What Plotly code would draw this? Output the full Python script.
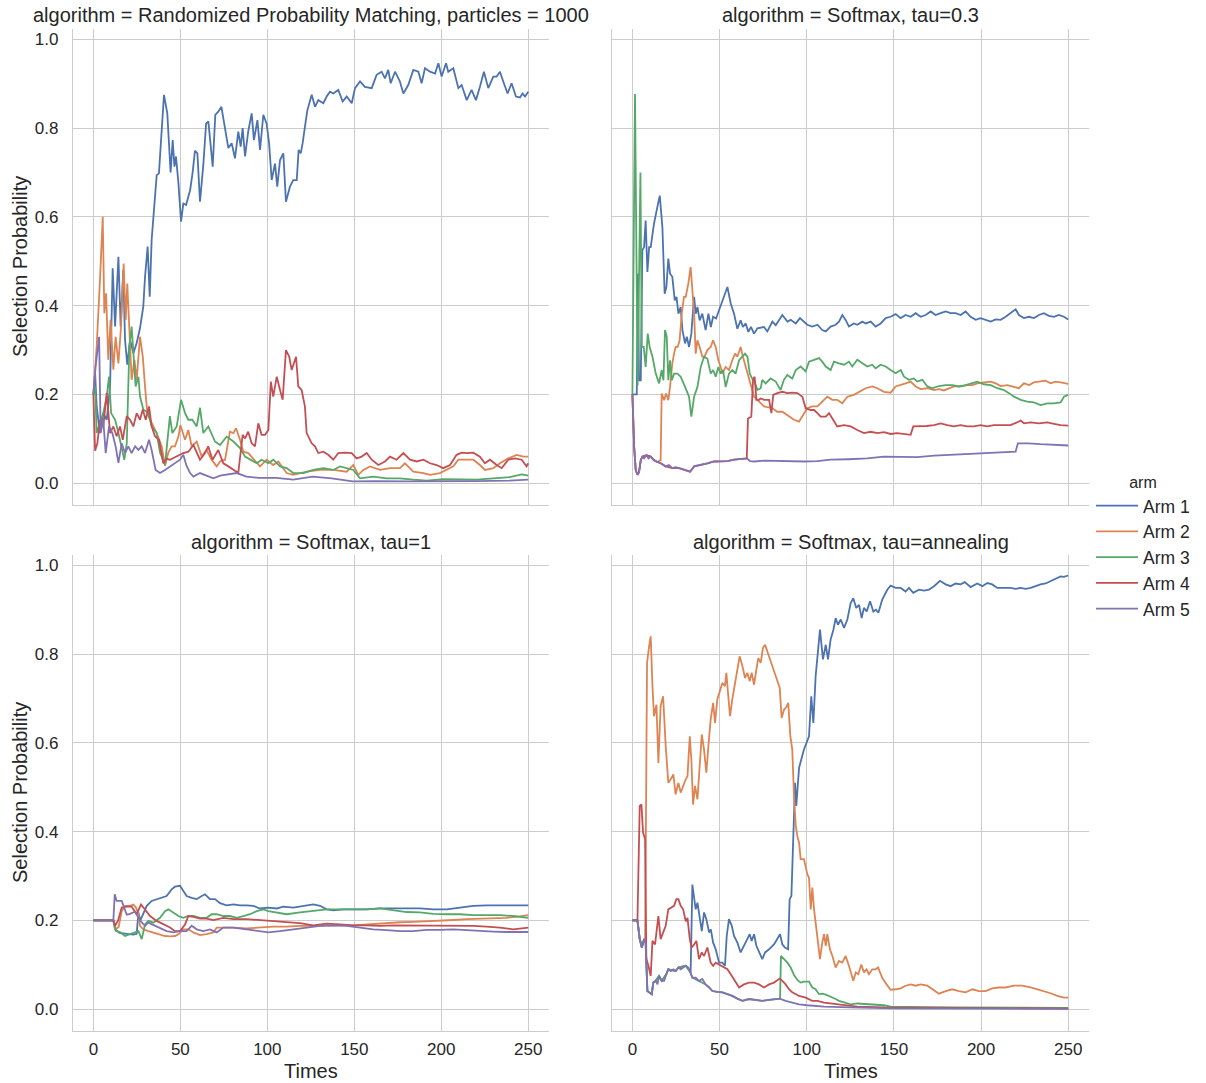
import plotly.graph_objects as go

# ---------------- data ----------------
ARMS = ["Arm 1", "Arm 2", "Arm 3", "Arm 4", "Arm 5"]
COLORS = ["#4C72B0", "#DD8452", "#55A868", "#C44E52", "#8172B3"]
PANEL_TITLES = [
    "algorithm = Randomized Probability Matching, particles = 1000",
    "algorithm = Softmax, tau=0.3",
    "algorithm = Softmax, tau=1",
    "algorithm = Softmax, tau=annealing",
]
X_TICKS = [0, 50, 100, 150, 200, 250]
Y_TICKS = [0.0, 0.2, 0.4, 0.6, 0.8, 1.0]

# (time, selection probability) pairs
RPM_ARM1 = [(0,0.2),(1,0.248),(1.9,0.173),(3.8,0.113),(5.7,0.158),(7.7,0.143),(9.6,0.218),(11.1,0.484),(12.5,0.353),(14.4,0.51),(15.7,0.353),(17.2,0.48),(18.2,0.323),(19.5,0.267),(21.1,0.323),(23,0.293),(24.9,0.316),(26.8,0.349),(28.7,0.398),(29.7,0.465),(31.2,0.533),(32.4,0.42),(33.5,0.548),(34.5,0.593),(36.4,0.694),(37.7,0.698),(40.6,0.875),(42.5,0.833),(44.4,0.70),(45.6,0.773),(46.6,0.713),(47.5,0.736),(48.9,0.676),(50.4,0.589),(51.7,0.63),(53.3,0.627),(55.6,0.66),(57,0.698),(58.4,0.749),(59.8,0.743),(61.3,0.634),(63.2,0.717),(64.8,0.81),(66.1,0.815),(68.6,0.713),(70.1,0.83),(71.8,0.837),(73.6,0.848),(75.5,0.803),(77.6,0.755),(79.5,0.766),(81.4,0.732),(83.3,0.792),(84.7,0.758),(85.8,0.80),(87.2,0.736),(89,0.792),(91,0.833),(92.3,0.773),(94.3,0.818),(95.8,0.751),(97.7,0.83),(99.6,0.81),(101,0.766),(102.5,0.683),(104.4,0.72),(105.7,0.668),(107.3,0.728),(109.2,0.743),(110.7,0.634),(113,0.668),(114.9,0.683),(116.9,0.683),(118,0.751),(119.2,0.743),(120.3,0.766),(121.6,0.803),(123,0.84),(125.5,0.875),(127.4,0.848),(129.3,0.863),(132.2,0.856),(134.1,0.871),(136,0.882),(137.9,0.878),(140.8,0.886),(143.3,0.86),(145.6,0.871),(148.5,0.856),(150.4,0.89),(153.3,0.905),(156.1,0.893),(160,0.89),(162.8,0.92),(165.7,0.927),(167.6,0.912),(169.5,0.931),(170.9,0.901),(173.4,0.927),(176.2,0.905),(178.2,0.878),(181,0.897),(183.9,0.931),(186.8,0.927),(188.7,0.901),(190.6,0.935),(193.5,0.927),(196.4,0.923),(198.3,0.946),(200.2,0.916),(202.7,0.946),(204,0.927),(206.9,0.935),(209.8,0.89),(211.7,0.897),(214.6,0.863),(217.4,0.886),(219.9,0.863),(222.2,0.893),(224.5,0.927),(227,0.89),(229.9,0.916),(231.8,0.916),(233.7,0.927),(235.6,0.905),(238.1,0.878),(240.4,0.901),(242.9,0.871),(245.2,0.869),(246.7,0.878),(248.1,0.871),(250,0.882)]
RPM_ARM2 = [(0,0.2),(1.9,0.308),(3.8,0.458),(5.4,0.6),(6.3,0.383),(7.3,0.428),(8.6,0.278),(9.9,0.368),(11.5,0.256),(12.8,0.33),(14.4,0.27),(15.9,0.353),(17.4,0.495),(18.6,0.368),(19.5,0.45),(20.7,0.33),(22,0.233),(23.6,0.278),(24.9,0.233),(26.8,0.33),(28.4,0.286),(29.7,0.218),(31,0.158),(32.6,0.143),(34.5,0.128),(36.4,0.113),(39.3,0.083),(41.2,0.039),(43.1,0.069),(45,0.083),(46.9,0.083),(48.9,0.105),(50,0.131),(52.7,0.098),(54.6,0.12),(56.5,0.083),(59.4,0.094),(62.3,0.06),(65,0.075),(68,0.053),(70.9,0.038),(72.8,0.049),(75.7,0.053),(78.5,0.116),(80.5,0.113),(82,0.124),(84.3,0.098),(86.2,0.071),(89.1,0.068),(92,0.056),(95.8,0.038),(99.6,0.053),(103.4,0.041),(106.3,0.049),(111.1,0.023),(114.9,0.019),(122.6,0.026),(130.3,0.03),(137.9,0.03),(145.6,0.026),(149.4,0.041),(152.3,0.019),(155.2,0.03),(159,0.038),(164.8,0.03),(170.5,0.034),(176.2,0.034),(179.1,0.045),(183.9,0.026),(189.7,0.023),(193.5,0.019),(199.2,0.023),(203.1,0.03),(206.9,0.038),(209.8,0.053),(213.6,0.053),(218.4,0.053),(222.2,0.041),(225.1,0.03),(229.9,0.034),(233.7,0.045),(238.5,0.056),(243.3,0.064),(247.1,0.06),(250,0.06)]
RPM_ARM3 = [(0,0.2),(1,0.218),(1.9,0.113),(3.8,0.136),(5.7,0.158),(7.7,0.196),(9,0.24),(10.2,0.158),(12.5,0.143),(14.4,0.113),(16.3,0.083),(17.8,0.053),(19.2,0.09),(20.7,0.308),(22,0.353),(23,0.3),(24.3,0.218),(25.9,0.24),(26.8,0.196),(28.7,0.166),(31.6,0.158),(33.5,0.128),(36.4,0.113),(38.3,0.069),(41.2,0.042),(44,0.151),(45.4,0.113),(47.9,0.128),(50.4,0.188),(52.7,0.158),(54.6,0.143),(56.9,0.143),(59.4,0.128),(61.3,0.17),(63.2,0.113),(66.1,0.128),(69.9,0.094),(72.8,0.086),(76.6,0.105),(80.5,0.094),(84.3,0.079),(87.2,0.06),(90,0.053),(93.9,0.045),(96.7,0.053),(100.6,0.045),(103.4,0.053),(107.3,0.038),(111.1,0.034),(114.9,0.023),(120.7,0.023),(126.4,0.03),(132.2,0.034),(137.9,0.03),(141.8,0.038),(145.6,0.034),(149.4,0.03),(153.3,0.011),(160.9,0.015),(168.6,0.011),(176.2,0.011),(183.9,0.008),(191.6,0.006),(201.1,0.009),(210.7,0.008),(220.3,0.008),(229.9,0.011),(239.5,0.014),(246.2,0.02),(250,0.017)]
RPM_ARM4 = [(0,0.2),(1,0.073),(2.3,0.09),(3.8,0.143),(5.7,0.128),(7.7,0.203),(9.6,0.113),(11.5,0.128),(13.4,0.106),(15.3,0.128),(16.9,0.098),(19.2,0.151),(21.1,0.143),(23,0.128),(24.9,0.158),(26.8,0.143),(28.4,0.166),(30.1,0.143),(32,0.173),(33.5,0.128),(35.4,0.106),(37.7,0.098),(40.2,0.045),(42.1,0.055),(44,0.053),(47.9,0.06),(51.7,0.068),(54.6,0.071),(57.5,0.086),(61.3,0.053),(64.2,0.068),(66,0.083),(68.5,0.053),(71.8,0.075),(74.7,0.045),(77.6,0.038),(80.5,0.03),(83.3,0.023),(85.8,0.109),(87.2,0.101),(89,0.116),(91,0.09),(92.9,0.083),(94.8,0.135),(96.7,0.109),(98.7,0.109),(100.6,0.12),(102,0.229),(103.4,0.195),(105.4,0.24),(107.3,0.21),(108.8,0.188),(110.7,0.30),(112.6,0.285),(114,0.255),(116.5,0.285),(117.8,0.218),(119.7,0.21),(121.6,0.173),(122.6,0.113),(125.5,0.09),(127.4,0.083),(129.3,0.068),(132.2,0.071),(135,0.064),(137.9,0.053),(140.8,0.068),(144.6,0.069),(148.5,0.068),(151.3,0.056),(154.2,0.06),(157.1,0.068),(160,0.053),(163.8,0.041),(167.6,0.049),(170.5,0.06),(174.3,0.053),(178.2,0.068),(182,0.053),(185.8,0.049),(189.7,0.053),(193.5,0.045),(197.3,0.041),(201.1,0.034),(205,0.041),(208.8,0.064),(211.7,0.069),(214.6,0.068),(218.4,0.069),(222.2,0.06),(225.1,0.045),(228,0.053),(231.8,0.041),(234.7,0.034),(238.5,0.053),(242.3,0.056),(246.2,0.053),(249,0.038),(250,0.045)]
RPM_ARM5 = [(0,0.2),(1.3,0.263),(3.3,0.33),(4.2,0.113),(5.7,0.143),(7.1,0.068),(9,0.128),(10.9,0.113),(12.8,0.083),(14.4,0.046),(16.3,0.09),(18.2,0.068),(20.1,0.083),(22,0.068),(24,0.083),(25.9,0.075),(27.8,0.083),(29.7,0.068),(32,0.098),(33.5,0.075),(35.8,0.03),(38.3,0.023),(41.2,0.03),(44,0.038),(46.9,0.046),(49.8,0.053),(51.7,0.064),(53.5,0.04),(55.6,0.023),(57.5,0.015),(61.3,0.023),(64.2,0.018),(69,0.011),(72.8,0.017),(76.6,0.019),(82.4,0.023),(88,0.015),(95,0.012),(105,0.012),(114.9,0.008),(126,0.015),(137,0.011),(149,0.004),(162,0.005),(181,0.004),(201,0.004),(220,0.005),(239,0.006),(250,0.008)]

SM03_ARM1 = [(0,0.2),(2.5,0.2),(3.2,0.472),(3.8,0.232),(4.8,0.232),(5.7,0.525),(6.7,0.532),(7.6,0.592),(8.6,0.476),(9.6,0.532),(10.5,0.532),(12.4,0.585),(14.3,0.622),(15.7,0.648),(17.2,0.577),(18.5,0.427),(19.5,0.442),(20.6,0.506),(21.6,0.472),(22.9,0.465),(24.3,0.412),(25.3,0.42),(26.4,0.382),(27.7,0.397),(28.7,0.345),(30.2,0.315),(31.2,0.33),(32.5,0.307),(33.8,0.337),(35.4,0.42),(36.3,0.382),(37.3,0.397),(38.6,0.367),(40.1,0.382),(42,0.345),(43.6,0.382),(45,0.352),(46.3,0.375),(48,0.371),(49.7,0.39),(51.6,0.412),(53.5,0.435),(54.5,0.442),(56.4,0.405),(58.3,0.382),(60.2,0.348),(62.1,0.367),(63.4,0.352),(65,0.36),(66.5,0.341),(68,0.352),(69.8,0.337),(71.7,0.349),(75.5,0.352),(77.4,0.342),(80.3,0.364),(82.2,0.356),(86,0.379),(88.9,0.364),(90.8,0.368),(93.7,0.36),(96.1,0.372),(98.4,0.364),(100.3,0.357),(103.2,0.353),(106.1,0.357),(108.9,0.345),(110.9,0.342),(113.7,0.353),(116.6,0.357),(118.5,0.364),(120.4,0.379),(122.3,0.368),(124.2,0.353),(127,0.36),(129,0.357),(131.9,0.364),(133.8,0.36),(136.7,0.364),(139.5,0.353),(142.4,0.36),(145.3,0.372),(148.1,0.375),(151,0.381),(153.9,0.372),(156.7,0.379),(159.6,0.375),(162.5,0.383),(165.3,0.375),(168.2,0.379),(171.1,0.387),(173.9,0.379),(176.8,0.383),(179.7,0.387),(182.5,0.383),(185.4,0.383),(188.3,0.379),(191.1,0.387),(194,0.375),(196.9,0.368),(199.7,0.372),(202.6,0.368),(205.5,0.364),(208.4,0.369),(211.2,0.368),(214.1,0.375),(216.9,0.383),(219.8,0.392),(221.7,0.379),(224.6,0.372),(227.5,0.375),(230.3,0.372),(233.2,0.379),(236,0.383),(238.9,0.377),(241.8,0.375),(244.6,0.379),(247.5,0.375),(250,0.369)]
SM03_ARM2 = [(0,0.2),(1,0.082),(1.9,0.03),(2.9,0.019),(3.8,0.025),(4.8,0.052),(5.7,0.06),(8,0.063),(10.5,0.06),(12.4,0.052),(14.3,0.048),(16.2,0.052),(16.8,0.202),(18.2,0.187),(19.3,0.202),(20.6,0.187),(21.6,0.217),(22.9,0.27),(23.9,0.292),(24.8,0.307),(26,0.307),(27.1,0.322),(28.3,0.382),(29.6,0.42),(30.6,0.42),(32.1,0.45),(33.4,0.487),(34.4,0.442),(35.4,0.382),(36.3,0.292),(37.3,0.322),(38.6,0.307),(40.1,0.285),(41.4,0.285),(43,0.3),(44.9,0.307),(46.3,0.322),(47.8,0.307),(49.3,0.277),(50.6,0.262),(51.6,0.247),(53.5,0.262),(55.4,0.255),(57.3,0.277),(58.9,0.292),(60.2,0.285),(62.1,0.307),(63.4,0.285),(65,0.262),(66.5,0.24),(68.4,0.21),(69.8,0.195),(71.7,0.188),(75.5,0.173),(80.3,0.169),(83.1,0.161),(86,0.161),(89.8,0.15),(92.7,0.143),(95.6,0.139),(98.4,0.158),(100.3,0.169),(103.2,0.173),(106.1,0.173),(108.9,0.184),(111.8,0.195),(114.7,0.188),(117.5,0.188),(120.4,0.18),(123.3,0.195),(127,0.199),(130,0.206),(133.8,0.214),(137.6,0.218),(140.5,0.214),(144.3,0.206),(148.1,0.204),(151,0.218),(153.9,0.221),(156.7,0.225),(159.6,0.229),(162.5,0.218),(165.3,0.212),(169.2,0.214),(173,0.21),(175.8,0.212),(178.7,0.209),(181.6,0.214),(184.4,0.218),(188.3,0.218),(192.1,0.221),(195,0.221),(197.8,0.225),(201.6,0.227),(205.5,0.229),(208.4,0.225),(211.2,0.219),(215,0.221),(217.9,0.218),(221.7,0.214),(224.6,0.225),(227.5,0.221),(230.3,0.227),(234.1,0.229),(236.9,0.231),(239.9,0.225),(242.7,0.229),(245.6,0.227),(250,0.224)]
SM03_ARM3 = [(0,0.2),(1.5,0.877),(3,0.22),(4.6,0.70),(5.4,0.307),(6.5,0.307),(7.6,0.262),(8.8,0.337),(9.9,0.307),(11.5,0.285),(13.4,0.247),(15.3,0.225),(16.8,0.255),(17.8,0.232),(18.7,0.345),(19.7,0.33),(20.6,0.232),(21.6,0.277),(22.6,0.232),(23.9,0.247),(25.8,0.247),(27.7,0.24),(30.2,0.217),(32.5,0.195),(33.8,0.15),(35.4,0.195),(37.3,0.217),(39.2,0.262),(41.1,0.285),(43,0.281),(44.9,0.247),(46.3,0.255),(47.8,0.24),(49.3,0.262),(50.6,0.247),(52,0.255),(53.5,0.217),(55.4,0.247),(57.3,0.255),(59.2,0.247),(61.2,0.277),(63.1,0.285),(64.6,0.292),(66,0.285),(67.3,0.247),(68.8,0.235),(69.8,0.233),(71.7,0.21),(73.6,0.214),(74.5,0.233),(76.4,0.225),(79.3,0.236),(82.2,0.229),(85,0.21),(86.9,0.233),(88.9,0.244),(91.7,0.236),(93.7,0.255),(96.5,0.263),(99.4,0.252),(101.3,0.274),(104.2,0.278),(107,0.282),(108.9,0.274),(110.9,0.263),(113.7,0.255),(115.6,0.274),(118.5,0.27),(121.4,0.267),(124.2,0.274),(126.1,0.263),(129,0.278),(131.9,0.27),(134.7,0.263),(137.6,0.267),(139.5,0.259),(142.4,0.267),(145.3,0.263),(148.1,0.255),(151,0.248),(153.9,0.255),(155.8,0.24),(158.6,0.233),(161.5,0.236),(163.4,0.229),(166.3,0.233),(169.2,0.218),(172,0.214),(175.8,0.219),(179.7,0.221),(183.5,0.221),(187.3,0.218),(191.1,0.221),(195,0.225),(197.8,0.229),(201.6,0.223),(205.5,0.221),(209.3,0.214),(213.1,0.21),(216,0.203),(218.9,0.195),(222.7,0.188),(226.5,0.184),(230.3,0.182),(234.1,0.176),(238,0.18),(241.8,0.18),(245.6,0.182),(247.5,0.195),(250,0.199)]
SM03_ARM4 = [(0,0.2),(1,0.082),(1.9,0.03),(2.9,0.019),(3.8,0.025),(4.8,0.052),(5.7,0.06),(8,0.063),(10.5,0.06),(12.4,0.052),(14.3,0.048),(16.2,0.045),(19.1,0.038),(22.9,0.034),(26.8,0.034),(29.6,0.03),(33.1,0.026),(35.4,0.038),(39.2,0.041),(43,0.045),(46.8,0.049),(50.6,0.05),(54.5,0.05),(58.3,0.053),(62.1,0.055),(65.6,0.056),(66.3,0.146),(68.2,0.15),(69.2,0.233),(70.1,0.24),(71.1,0.188),(72.6,0.188),(73.6,0.191),(75.5,0.188),(78.4,0.188),(79.7,0.158),(80.8,0.199),(83.1,0.203),(86,0.206),(88.9,0.203),(91.7,0.204),(94.6,0.203),(97.5,0.195),(99.4,0.169),(102.3,0.165),(104.2,0.165),(106.1,0.158),(108,0.15),(110.9,0.15),(112.8,0.158),(114.7,0.146),(117.5,0.128),(121.4,0.131),(125.2,0.128),(129,0.12),(132.8,0.113),(136.7,0.116),(140.5,0.113),(144.3,0.115),(148.1,0.111),(151.9,0.113),(155.8,0.111),(159.6,0.109),(161.1,0.128),(165,0.128),(168.8,0.129),(173,0.131),(176.8,0.135),(180.6,0.131),(184.4,0.128),(188.3,0.131),(192.1,0.128),(195.9,0.128),(199.7,0.131),(203.6,0.128),(207.4,0.131),(211.2,0.131),(216.9,0.131),(221.7,0.139),(222.7,0.141),(224.6,0.135),(228.4,0.137),(233.2,0.135),(238,0.137),(241.8,0.134),(245.6,0.131),(250,0.13)]
SM03_ARM5 = [(0,0.2),(1,0.082),(1.9,0.03),(2.9,0.019),(3.8,0.025),(4.8,0.052),(5.7,0.06),(6.7,0.056),(8,0.063),(9.2,0.056),(10.5,0.06),(12.4,0.052),(14.3,0.048),(16.2,0.045),(19.1,0.038),(20.9,0.041),(22.9,0.034),(24.8,0.036),(26.8,0.034),(29.6,0.03),(33.1,0.026),(35.4,0.038),(39.2,0.041),(43,0.045),(46.8,0.049),(50.6,0.05),(54.5,0.05),(58.3,0.053),(62.1,0.055),(65.6,0.056),(67.5,0.05),(69.8,0.049),(76,0.051),(83.1,0.05),(90.7,0.049),(98.4,0.049),(106,0.05),(113.7,0.053),(124,0.054),(134.7,0.056),(144.3,0.06),(154,0.06),(163.4,0.059),(173,0.062),(182.5,0.064),(192.1,0.066),(201.6,0.067),(211.2,0.069),(219.8,0.071),(221.1,0.09),(227,0.09),(234.1,0.088),(243.7,0.087),(250,0.085)]

SM1_ARM1 = [(0,0.2),(11.5,0.2),(12.5,0.18),(15,0.172),(19.2,0.17),(23,0.168),(24.9,0.17),(25.9,0.218),(27,0.2),(28.5,0.215),(30.7,0.233),(33.5,0.244),(36.4,0.248),(39.3,0.251),(42.1,0.255),(45,0.27),(46.9,0.276),(49.8,0.278),(51.7,0.266),(53.6,0.255),(56.5,0.251),(59.4,0.248),(62.3,0.255),(64.2,0.259),(67,0.248),(69.9,0.248),(72.8,0.239),(76.6,0.234),(80.5,0.236),(84.3,0.234),(88.1,0.234),(91.9,0.233),(95.8,0.227),(100.6,0.229),(105.4,0.227),(109.2,0.231),(114.9,0.229),(120.7,0.233),(126.4,0.236),(130.3,0.233),(134.1,0.225),(137.9,0.223),(143.7,0.225),(149.4,0.225),(157.1,0.225),(164.8,0.227),(172.4,0.227),(180.1,0.227),(187.7,0.227),(195.4,0.225),(203.1,0.225),(210.7,0.229),(218.4,0.233),(226,0.234),(233.7,0.234),(241.4,0.234),(250,0.234)]
SM1_ARM2 = [(0,0.2),(11.5,0.2),(12.5,0.18),(14.5,0.185),(16.3,0.221),(18.2,0.233),(21.1,0.233),(23,0.236),(24.5,0.229),(25.9,0.214),(26.8,0.188),(28.7,0.18),(31.6,0.176),(34.5,0.173),(38.3,0.169),(41.2,0.165),(44.1,0.164),(46.9,0.165),(48.9,0.169),(51.7,0.18),(54.6,0.18),(57.5,0.173),(61.3,0.167),(65.1,0.169),(69,0.173),(70.9,0.184),(74.7,0.184),(80.5,0.184),(88.1,0.182),(95.8,0.184),(103.4,0.186),(111.1,0.186),(118.8,0.188),(126.4,0.188),(134.1,0.189),(141.8,0.189),(149.4,0.189),(157.1,0.191),(164.8,0.193),(168.6,0.195),(176.2,0.196),(183.9,0.197),(191.6,0.198),(199.2,0.199),(206.9,0.201),(214.6,0.203),(222.2,0.204),(229.9,0.206),(237.5,0.206),(245.2,0.209),(250,0.212)]
SM1_ARM3 = [(0,0.2),(11.5,0.2),(12.2,0.19),(13,0.176),(15.3,0.174),(18.2,0.165),(21.1,0.169),(23.9,0.173),(25.9,0.176),(27.8,0.158),(29.7,0.191),(31.6,0.199),(34.5,0.195),(38.3,0.206),(41.2,0.221),(43.1,0.225),(46,0.218),(48.9,0.21),(51.7,0.206),(54.6,0.21),(57.5,0.21),(61.3,0.206),(65.1,0.206),(68,0.214),(70.9,0.214),(74.7,0.21),(78.5,0.21),(82.4,0.206),(86.2,0.21),(90,0.214),(93.9,0.221),(97.7,0.225),(100.6,0.221),(105.4,0.218),(111.1,0.214),(118.8,0.218),(126.4,0.221),(134.1,0.225),(141.8,0.225),(149.4,0.225),(157.1,0.225),(164.8,0.227),(172.4,0.223),(180.1,0.219),(187.7,0.218),(195.4,0.215),(203.1,0.214),(210.7,0.214),(218.4,0.212),(226,0.212),(233.7,0.212),(241.4,0.21),(250,0.206)]
SM1_ARM4 = [(0,0.2),(11.5,0.2),(12.5,0.188),(14.2,0.2),(16.3,0.229),(19.2,0.231),(22,0.231),(24.9,0.214),(27.4,0.236),(29.7,0.225),(32.6,0.21),(36.4,0.199),(40.2,0.191),(44.1,0.184),(46.9,0.176),(49.8,0.176),(52.7,0.191),(54.6,0.21),(57.5,0.208),(61.3,0.204),(65.1,0.204),(69,0.201),(74.7,0.206),(80.5,0.203),(88.1,0.203),(95.8,0.201),(103.4,0.199),(111.1,0.196),(118.8,0.194),(126.4,0.189),(134.1,0.193),(141.8,0.191),(149.4,0.189),(157.1,0.189),(164.8,0.188),(172.4,0.189),(180.1,0.189),(187.7,0.189),(195.4,0.189),(203.1,0.189),(210.7,0.188),(218.4,0.188),(226,0.186),(233.7,0.184),(241.4,0.18),(250,0.184)]
SM1_ARM5 = [(0,0.2),(11.5,0.2),(12.3,0.259),(13.4,0.244),(16.3,0.244),(19.2,0.213),(21.1,0.215),(23.9,0.22),(26.8,0.2),(29.7,0.188),(31.6,0.195),(34.5,0.19),(38.3,0.184),(42.1,0.176),(46,0.173),(49.8,0.176),(53.6,0.176),(56.5,0.188),(59.4,0.18),(63.2,0.176),(67,0.18),(70.9,0.173),(74.7,0.184),(80.5,0.184),(88.1,0.18),(95.8,0.176),(100.6,0.173),(107.3,0.176),(114.9,0.18),(122.6,0.184),(130.3,0.188),(137.9,0.189),(145.6,0.188),(153.3,0.184),(160.9,0.18),(168.6,0.178),(176.2,0.176),(183.9,0.176),(191.6,0.179),(199.2,0.179),(206.9,0.18),(214.6,0.178),(222.2,0.176),(229.9,0.175),(237.5,0.174),(245.2,0.173),(250,0.174)]

SMA_ARM1 = [(0,0.2),(2.9,0.2),(4.2,0.158),(5.4,0.139),(6.7,0.158),(7.6,0.15),(8.6,0.041),(9.9,0.038),(11.1,0.034),(12,0.06),(13.4,0.064),(15.3,0.075),(16.8,0.064),(19.5,0.079),(20.6,0.09),(24.8,0.086),(26.4,0.094),(30.6,0.098),(33.4,0.083),(34.4,0.281),(35.4,0.255),(36.3,0.225),(37.3,0.24),(38.2,0.218),(39.8,0.176),(41.1,0.218),(42.4,0.203),(44,0.173),(45,0.18),(46.3,0.15),(47.8,0.135),(49.7,0.105),(51.6,0.105),(53.1,0.098),(54.1,0.165),(55.4,0.203),(57,0.188),(58.3,0.165),(60.2,0.15),(62.1,0.128),(64,0.143),(65.9,0.158),(67.3,0.169),(68.4,0.154),(69.8,0.169),(71.1,0.143),(72.6,0.128),(74.5,0.113),(76.1,0.128),(78.4,0.135),(81.2,0.146),(83.1,0.158),(84.7,0.169),(86,0.146),(87.5,0.139),(89.3,0.135),(90.2,0.248),(91.2,0.255),(92.3,0.398),(93.3,0.51),(94,0.458),(95.6,0.544),(98.4,0.585),(101.3,0.615),(102.6,0.705),(103.8,0.645),(105.1,0.75),(107.6,0.855),(109.3,0.788),(110.9,0.821),(112.2,0.788),(113.7,0.833),(115.3,0.855),(116.6,0.881),(117.9,0.866),(119.5,0.878),(121.4,0.859),(123.3,0.878),(125.2,0.915),(126.7,0.926),(128.4,0.904),(130,0.911),(131.5,0.881),(132.8,0.904),(134.4,0.896),(136.3,0.919),(138.2,0.896),(139.7,0.9),(141.1,0.893),(143.3,0.923),(146.2,0.945),(148.1,0.954),(151,0.949),(153.9,0.949),(156.7,0.941),(158.6,0.949),(161.1,0.938),(164.4,0.945),(167.3,0.943),(170.1,0.945),(173,0.953),(176.4,0.965),(179.7,0.957),(182.5,0.953),(185.4,0.959),(188.3,0.957),(190.6,0.962),(194,0.951),(197.8,0.959),(200.7,0.953),(203.6,0.96),(206.4,0.957),(209.3,0.949),(213.1,0.949),(216.9,0.949),(219.8,0.947),(222.7,0.949),(225.5,0.947),(228.4,0.949),(231.3,0.953),(234.1,0.957),(237,0.959),(239.9,0.964),(242.7,0.969),(245.6,0.975),(247.5,0.974),(250,0.977)]
SMA_ARM2 = [(0,0.2),(2.9,0.2),(4.2,0.158),(5.7,0.143),(7.3,0.158),(8.4,0.78),(9.6,0.818),(10.5,0.84),(11.5,0.728),(12.4,0.66),(13.8,0.686),(14.9,0.555),(16.2,0.683),(17.6,0.705),(19.1,0.593),(20.6,0.51),(22,0.518),(23.5,0.529),(24.8,0.484),(26.4,0.51),(27.7,0.488),(29,0.503),(30.6,0.518),(31.6,0.525),(32.9,0.615),(33.8,0.563),(34.8,0.461),(35.9,0.503),(37.3,0.473),(38.6,0.548),(39.8,0.619),(41.1,0.585),(42.4,0.533),(43.6,0.593),(44.9,0.653),(46.3,0.69),(47.4,0.645),(48.7,0.698),(50.3,0.72),(51.6,0.735),(53.1,0.728),(53.9,0.758),(55,0.705),(56,0.66),(57.3,0.698),(59.3,0.746),(61.5,0.795),(63.1,0.773),(64.6,0.746),(65.9,0.758),(67.3,0.739),(68.4,0.758),(69.8,0.731),(71.1,0.765),(72.2,0.791),(73.6,0.78),(74.9,0.814),(76.1,0.821),(78.4,0.795),(81.2,0.761),(84.5,0.724),(85.6,0.656),(87,0.675),(88.2,0.68),(89.4,0.69),(90.6,0.615),(91.7,0.585),(92.7,0.48),(93.7,0.413),(94.6,0.39),(95.6,0.375),(96.5,0.338),(98.4,0.338),(100.3,0.305),(101.3,0.296),(102.3,0.225),(103.2,0.274),(104.2,0.225),(105.7,0.173),(107.6,0.113),(108.9,0.15),(109.9,0.169),(110.9,0.143),(111.8,0.169),(113.3,0.135),(114.7,0.12),(116.6,0.094),(118.5,0.109),(120.4,0.105),(122.3,0.12),(124.2,0.098),(126.7,0.064),(128.1,0.083),(129.6,0.079),(131.3,0.101),(132.8,0.083),(134.3,0.09),(135.7,0.079),(137.6,0.09),(139.5,0.09),(140.9,0.094),(143.3,0.071),(145.8,0.056),(148.1,0.044),(151,0.045),(153.9,0.047),(156.7,0.053),(159.6,0.056),(162.5,0.053),(165.3,0.056),(169.2,0.053),(172,0.045),(175.8,0.035),(179.7,0.041),(183.5,0.045),(187.3,0.041),(191.1,0.038),(195,0.045),(198.8,0.041),(202.6,0.041),(206.4,0.047),(210.2,0.049),(214.1,0.049),(218.8,0.053),(223.6,0.053),(228.4,0.049),(232.2,0.045),(236,0.041),(239.9,0.036),(243.7,0.03),(247.5,0.026),(250,0.026)]
SMA_ARM3 = [(0,0.2),(2.9,0.2),(4.2,0.158),(5.4,0.139),(6.7,0.158),(7.6,0.15),(8.6,0.041),(9.9,0.038),(11.1,0.034),(12,0.06),(13.4,0.064),(15.3,0.075),(16.8,0.064),(19.5,0.079),(20.6,0.09),(24.8,0.086),(26.4,0.094),(30.6,0.098),(33.4,0.083),(34.4,0.071),(38.2,0.064),(42,0.056),(44,0.049),(45.9,0.041),(48.7,0.039),(51.6,0.038),(54.5,0.034),(57.3,0.03),(60.2,0.024),(63.1,0.019),(66.9,0.023),(70.7,0.021),(74.5,0.019),(78.4,0.021),(82.2,0.023),(84.7,0.024),(85.2,0.12),(87,0.113),(88.9,0.105),(90.8,0.094),(92.7,0.077),(94.6,0.066),(96.5,0.06),(98.4,0.062),(101.3,0.062),(103.2,0.049),(105.1,0.045),(107,0.034),(108.9,0.035),(110.9,0.033),(112.8,0.03),(114.7,0.026),(116.6,0.023),(118.5,0.019),(121.4,0.016),(125.2,0.011),(129,0.013),(132.8,0.012),(136.7,0.011),(140.5,0.011),(144.3,0.009),(148.1,0.006),(157.7,0.005),(167.3,0.005),(186.4,0.004),(205.5,0.004),(224.6,0.003),(250,0.003)]
SMA_ARM4 = [(0,0.2),(2.9,0.2),(4.2,0.458),(5.2,0.461),(6.1,0.398),(7.3,0.383),(8,0.113),(9.2,0.098),(10.5,0.075),(11.5,0.154),(13,0.146),(14.9,0.21),(16.2,0.158),(17.6,0.173),(19.1,0.188),(20.6,0.225),(22.5,0.229),(23.9,0.233),(25.2,0.248),(26.4,0.248),(27.7,0.233),(29.1,0.225),(30.6,0.198),(31.6,0.206),(32.9,0.158),(34,0.139),(35.4,0.146),(36.7,0.154),(38.2,0.113),(39.8,0.128),(41.1,0.12),(43,0.139),(44.9,0.105),(46.3,0.098),(47.8,0.105),(50.6,0.098),(52.6,0.094),(54.5,0.09),(56.4,0.079),(58.3,0.068),(61.2,0.049),(64,0.056),(66.9,0.06),(69.8,0.06),(72.6,0.056),(75.5,0.049),(78.4,0.056),(81.2,0.06),(84.5,0.069),(86,0.064),(87.9,0.056),(89.8,0.045),(91.7,0.038),(95.6,0.03),(99.4,0.026),(103.2,0.019),(106.1,0.019),(109.9,0.015),(117.5,0.011),(129,0.006),(145,0.004),(170,0.003),(200,0.002),(250,0.0015)]
SMA_ARM5 = [(0,0.2),(2.9,0.2),(4.2,0.158),(5.4,0.139),(6.7,0.158),(7.6,0.15),(8.6,0.041),(9.9,0.038),(11.1,0.034),(12,0.06),(13.4,0.064),(14.4,0.056),(15.3,0.075),(16.8,0.064),(18.2,0.064),(19.5,0.079),(20.6,0.09),(22,0.086),(23.5,0.09),(24.8,0.086),(26.4,0.094),(27.7,0.09),(29.1,0.094),(30.6,0.098),(32.1,0.094),(33.4,0.083),(34.4,0.071),(36.3,0.071),(38.2,0.064),(40.1,0.068),(42,0.056),(44,0.049),(45.9,0.041),(48.7,0.039),(51.6,0.038),(54.5,0.034),(57.3,0.03),(60.2,0.024),(63.1,0.019),(66.9,0.023),(70.7,0.021),(74.5,0.019),(78.4,0.021),(82.2,0.023),(84.5,0.024),(87.9,0.019),(91.7,0.015),(95.6,0.011),(100.3,0.009),(104.2,0.0075),(110,0.006),(125,0.004),(150,0.002),(200,0.0015),(250,0.001)]

PANELS = [
    [RPM_ARM1, RPM_ARM2, RPM_ARM3, RPM_ARM4, RPM_ARM5],
    [SM03_ARM1, SM03_ARM2, SM03_ARM3, SM03_ARM4, SM03_ARM5],
    [SM1_ARM1, SM1_ARM2, SM1_ARM3, SM1_ARM4, SM1_ARM5],
    [SMA_ARM1, SMA_ARM2, SMA_ARM3, SMA_ARM4, SMA_ARM5],
]

# ---------------- layout geometry ----------------
W, H = 1206, 1083
FONT = "Liberation Sans, Arial, Helvetica, sans-serif"
TXT = "#262626"
GRID = "#cccccc"

X_DOMAINS = [(73 / W, 549 / W), (612 / W, 1089 / W)]
Y_DOMAINS = [(1 - 505 / H, 1 - 29 / H), (1 - 1031 / H, 1 - 555 / H)]
X_RANGE = [-11.7, 261.9]
Y_RANGE = [-0.049, 1.0232]

fig = go.Figure()

for p, series in enumerate(PANELS):
    ax = "" if p == 0 else str(p + 1)
    for i, pts in enumerate(series):
        fig.add_trace(go.Scatter(
            x=[t for t, _ in pts], y=[v for _, v in pts],
            mode="lines", name=ARMS[i], legendgroup=ARMS[i],
            showlegend=(p == 0),
            line=dict(color=COLORS[i], width=1.8),
            xaxis="x" + ax, yaxis="y" + ax,
        ))

layout = dict(
    width=W, height=H,
    margin=dict(l=0, r=0, t=0, b=0),
    paper_bgcolor="white", plot_bgcolor="white",
    font=dict(family=FONT, color=TXT, size=17),
    showlegend=True,
    legend=dict(
        x=1091 / W, y=1 - 467 / H, xanchor="left", yanchor="top",
        font=dict(size=17.5, color=TXT, family=FONT),
        title=dict(text="arm", font=dict(size=16, color=TXT, family=FONT), side="top center"),
        bgcolor="rgba(0,0,0,0)", borderwidth=0,
        tracegroupgap=0, itemwidth=42,
    ),
)

annotations = []
for p in range(4):
    row, col = divmod(p, 2)
    ax = "" if p == 0 else str(p + 1)
    xd = X_DOMAINS[col]
    yd = Y_DOMAINS[row]
    layout["xaxis" + ax] = dict(
        domain=list(xd), anchor="y" + ax, range=X_RANGE,
        tickvals=X_TICKS, ticktext=[str(v) for v in X_TICKS],
        showticklabels=(row == 1), ticks="", ticklabelstandoff=2,
        showgrid=True, gridcolor=GRID, gridwidth=1,
        zeroline=False, showline=True, linecolor=GRID, linewidth=1.3,
        tickfont=dict(size=17, color=TXT, family=FONT),
    )
    layout["yaxis" + ax] = dict(
        domain=list(yd), anchor="x" + ax, range=Y_RANGE,
        tickvals=Y_TICKS, ticktext=["%.1f" % v for v in Y_TICKS],
        showticklabels=(col == 0), ticks="", ticklabelstandoff=10,
        showgrid=True, gridcolor=GRID, gridwidth=1,
        zeroline=False, showline=True, linecolor=GRID, linewidth=1.3,
        tickfont=dict(size=17, color=TXT, family=FONT),
    )
    # panel title
    annotations.append(dict(
        text=PANEL_TITLES[p], x=(xd[0] + xd[1]) / 2, y=1 - (15 if row == 0 else 542) / H,
        xref="paper", yref="paper", xanchor="center", yanchor="middle",
        showarrow=False, font=dict(size=20, color=TXT, family=FONT),
    ))
    if col == 0:
        annotations.append(dict(
            text="Selection Probability", x=20 / W, y=(yd[0] + yd[1]) / 2,
            xref="paper", yref="paper", xanchor="center", yanchor="middle",
            textangle=-90, showarrow=False, font=dict(size=20, color=TXT, family=FONT),
        ))
    if row == 1:
        annotations.append(dict(
            text="Times", x=(xd[0] + xd[1]) / 2, y=1 - 1071 / H,
            xref="paper", yref="paper", xanchor="center", yanchor="middle",
            showarrow=False, font=dict(size=20, color=TXT, family=FONT),
        ))

layout["annotations"] = annotations
fig.update_layout(**layout)
fig.write_html("out.html")
